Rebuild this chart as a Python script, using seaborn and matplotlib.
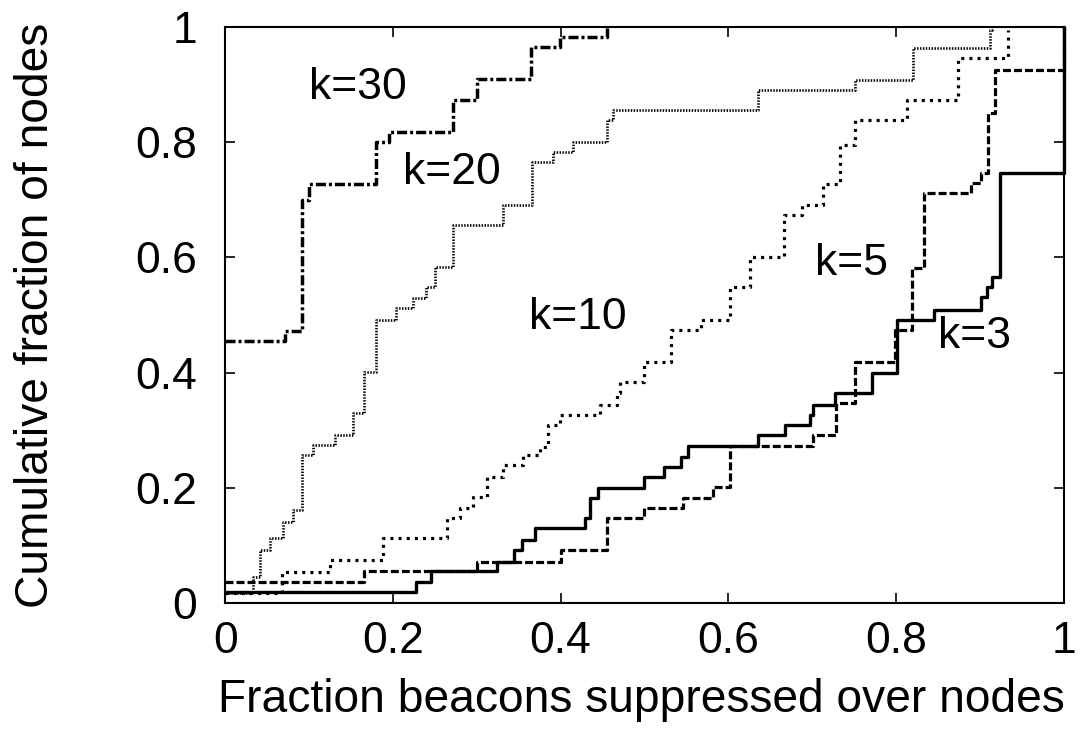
import matplotlib
matplotlib.use("Agg")
import matplotlib.pyplot as plt
import seaborn as sns

# CDF steps (x where step happens, new y)
k3_x = [0, 0.228, 0.246, 0.324, 0.344, 0.354, 0.369, 0.429, 0.435, 0.445, 0.50, 0.523, 0.544, 0.552,
        0.636, 0.668, 0.697, 0.701, 0.727, 0.771, 0.801, 0.846, 0.902, 0.909, 0.915, 0.924, 1.0]
k3_y = [0.02, 0.037, 0.055, 0.072, 0.092, 0.11, 0.13, 0.147, 0.182, 0.20, 0.219, 0.237, 0.254, 0.273,
        0.292, 0.309, 0.327, 0.344, 0.364, 0.399, 0.491, 0.509, 0.532, 0.549, 0.566, 0.746, 1.0]

k5_x = [0, 0.166, 0.30, 0.401, 0.455, 0.50, 0.546, 0.582, 0.602, 0.701, 0.729, 0.751, 0.799, 0.819,
        0.834, 0.89, 0.902, 0.91, 0.918, 1.0]
k5_y = [0.037, 0.055, 0.072, 0.092, 0.147, 0.165, 0.182, 0.202, 0.272, 0.292, 0.347, 0.419, 0.474, 0.581,
        0.711, 0.729, 0.746, 0.85, 0.925, 1.0]

k10_x = [0, 0.068, 0.125, 0.188, 0.264, 0.28, 0.295, 0.312, 0.331, 0.355, 0.375, 0.385, 0.399, 0.447,
         0.467, 0.471, 0.50, 0.532, 0.568, 0.602, 0.626, 0.666, 0.688, 0.713, 0.733, 0.751, 0.813,
         0.874, 0.934]
k10_y = [0.018, 0.054, 0.075, 0.113, 0.147, 0.165, 0.185, 0.219, 0.239, 0.257, 0.271, 0.309, 0.326, 0.344,
         0.364, 0.384, 0.419, 0.474, 0.491, 0.549, 0.601, 0.673, 0.69, 0.728, 0.795, 0.838, 0.873,
         0.945, 0.994]

k20_x = [0, 0.033, 0.041, 0.053, 0.069, 0.081, 0.091, 0.105, 0.131, 0.152, 0.166, 0.180, 0.204, 0.224,
         0.240, 0.250, 0.272, 0.331, 0.366, 0.391, 0.415, 0.455, 0.462, 0.635, 0.751, 0.82, 0.912, 0.915]
k20_y = [0.018, 0.046, 0.092, 0.113, 0.141, 0.161, 0.257, 0.274, 0.292, 0.33, 0.401, 0.491, 0.512, 0.529,
         0.549, 0.583, 0.656, 0.69, 0.765, 0.782, 0.80, 0.838, 0.855, 0.89, 0.907, 0.963, 0.994, 1.0]

k30_x = [0, 0.071, 0.091, 0.10, 0.18, 0.195, 0.272, 0.30, 0.365, 0.399, 0.455]
k30_y = [0.455, 0.473, 0.70, 0.727, 0.80, 0.818, 0.873, 0.909, 0.964, 0.982, 1.0]

labels = ["k=30", "k=20", "k=10", "k=5", "k=3"]
label_x = [0.158, 0.27, 0.42, 0.747, 0.894]
label_y = [0.894, 0.748, 0.496, 0.59, 0.462]

sns.set_style("ticks")
plt.rcParams['font.family'] = ['Liberation Sans', 'DejaVu Sans']
plt.rcParams['text.color'] = 'black'
plt.rcParams['axes.labelcolor'] = 'black'
plt.rcParams['xtick.color'] = 'black'
plt.rcParams['ytick.color'] = 'black'

fig = plt.figure(figsize=(10.83, 7.47), dpi=100)
ax = fig.add_axes([0.208, 0.1925, 0.774, 0.7717])

# (x, y, linewidth, dash pattern in linewidth units)
series = [
    (k3_x, k3_y, 2.4, None),
    (k5_x, k5_y, 2.3, (2.5, 0.95)),
    (k10_x, k10_y, 2.3, (0.95, 1.6)),
    (k20_x, k20_y, 1.9, (0.55, 0.55)),
    (k30_x, k30_y, 2.5, (2.9, 0.86, 0.86, 0.86)),
]
for xs, ys, lw, dash in series:
    sns.lineplot(x=xs, y=ys, ax=ax, color="black", linewidth=lw, drawstyle="steps-post",
                 estimator=None, sort=False)
    line = ax.lines[-1]
    if dash is not None:
        line.set_dashes(dash)
    line.set_clip_on(False)

for t, lx, ly in zip(labels, label_x, label_y):
    ax.text(lx, ly, t, fontsize=32, ha="center", va="center")

ax.set_xlim(0, 1)
ax.set_ylim(0, 1)
ticks = [0, 0.2, 0.4, 0.6, 0.8, 1]
ticklabels = ["0", "0.2", "0.4", "0.6", "0.8", "1"]
ax.set_xticks(ticks)
ax.set_xticklabels(ticklabels)
ax.set_yticks(ticks)
ax.set_yticklabels(ticklabels)
ax.tick_params(direction="in", length=7, width=1.2, top=True, right=True, labelsize=32, color="black")
ax.tick_params(axis="x", pad=13)
ax.tick_params(axis="y", pad=20)
for s in ax.spines.values():
    s.set_visible(True)
    s.set_linewidth(1.5)
    s.set_color("black")

ax.set_xlabel("Fraction beacons suppressed over nodes", fontsize=33.2)
ax.xaxis.label.set_va("center")
ax.xaxis.set_label_coords(0.497, -0.168)
ax.set_ylabel("Cumulative fraction of nodes", fontsize=33.2)
ax.yaxis.label.set_va("center")
ax.yaxis.set_label_coords(-0.226, 0.499)

fig.savefig("out.png", dpi=100)
